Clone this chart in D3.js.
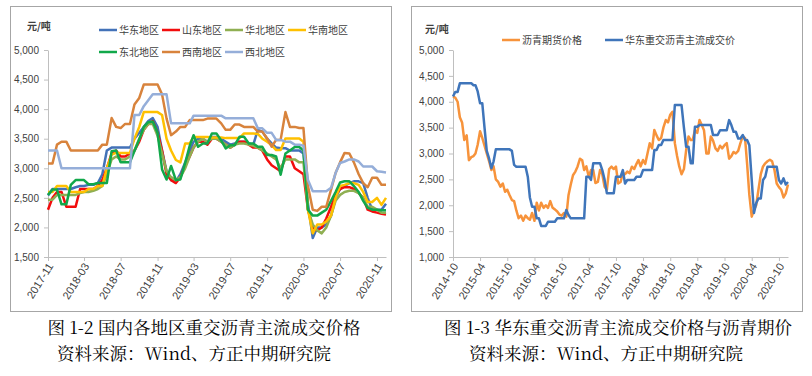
<!DOCTYPE html>
<html>
<head>
<meta charset="utf-8">
<script src="https://cdnjs.cloudflare.com/ajax/libs/d3/7.8.5/d3.min.js"></script>
<style>
  body { margin: 0; background: #fff; }
  svg text { font-family: "Liberation Sans", Arial, sans-serif; fill: #404040; }
  svg .cjk { font-family: "Noto Sans CJK SC", sans-serif; }
  svg .caption { font-family: "Noto Serif CJK SC", "Noto Sans CJK SC", serif; fill: #000; }
</style>
</head>
<body>
<svg id="chart" width="812" height="376"></svg>
<script>
// left chart: samples on the 1st and 16th of each month from 2017-11
const regionStart = "2017-11";
const regionTicks = ["2017-11", "2018-03", "2018-07", "2018-11", "2019-03", "2019-07",
  "2019-11", "2020-03", "2020-07", "2020-11"];
const regionNames = ["华东地区", "山东地区", "华北地区", "华南地区", "东北地区", "西南地区", "西北地区"];

const huadong = [2540, 2650, 2650, 2650, 2650, 2650, 2680, 2700, 2700, 2720,
  2720, 2750, 2900, 3300, 3350, 3350, 3350, 3350, 3350, 3500,
  3600, 3700, 3800, 3850, 3700, 3300, 2950, 2800, 2780, 2900,
  3100, 3300, 3450, 3500, 3500, 3450, 3530, 3530, 3500, 3450,
  3400, 3420, 3450, 3450, 3420, 3400, 3650, 3620, 3500, 3420,
  3350, 3340, 3340, 3300, 3300, 3300, 3250, 2400, 1820, 2000,
  2000, 2050, 2200, 2500, 2650, 2700, 2750, 2780, 2780, 2750,
  2500, 2300, 2300, 2300, 2400];
const shandong = [2300, 2500, 2600, 2600, 2350, 2350, 2350, 2650, 2650, 2650,
  2650, 2700, 2800, 3000, 3250, 3300, 3200, 3200, 3250, 3300,
  3450, 3650, 3750, 3800, 3600, 3300, 2900, 2800, 2750, 2850,
  3050, 3200, 3350, 3450, 3450, 3400, 3500, 3500, 3450, 3400,
  3350, 3400, 3450, 3450, 3400, 3350, 3350, 3300, 3150, 3050,
  3000, 2950, 3200, 3200, 3000, 2950, 2900, 2300, 2000, 1950,
  2000, 2150, 2350, 2550, 2650, 2680, 2680, 2650, 2580, 2500,
  2300, 2270, 2250, 2230, 2220];
const huabei = [2470, 2470, 2550, 2550, 2550, 2550, 2550, 2580, 2600, 2600,
  2620, 2650, 2700, 2900, 3150, 3200, 3150, 3150, 3200, 3300,
  3500, 3650, 3750, 3750, 3550, 3250, 2950, 2850, 2800, 2850,
  3000, 3200, 3350, 3450, 3500, 3450, 3500, 3500, 3450, 3400,
  3350, 3400, 3420, 3420, 3400, 3380, 3350, 3300, 3250, 3200,
  3150, 3000, 3150, 3150, 3150, 3100, 3100, 2300, 2050, 1950,
  1900, 2000, 2200, 2450, 2550, 2600, 2620, 2620, 2580, 2500,
  2350, 2350, 2300, 2250, 2250];
const huanan = [2600, 2600, 2700, 2700, 2700, 2600, 2600, 2600, 2600, 2650,
  2650, 2700, 2700, 3000, 3230, 3260, 3260, 3260, 3260, 3500,
  3700, 3950, 3950, 3950, 3950, 3900, 3500, 3300, 3140, 3100,
  3420, 3420, 3530, 3530, 3530, 3530, 3520, 3520, 3520, 3510,
  3510, 3510, 3510, 3590, 3590, 3590, 3580, 3500, 3450, 3393,
  3308, 3308, 3505, 3505, 3505, 3505, 3450, 2300, 1900, 2050,
  2050, 2100, 2200, 2500, 2700, 2720, 2750, 2750, 2720, 2600,
  2430, 2430, 2500, 2380, 2500];
const dongbei = [2550, 2640, 2640, 2390, 2390, 2720, 2800, 2800, 2800, 2730,
  2730, 2750, 2750, 2750, 3290, 3300, 3100, 3100, 3100, 3290,
  3490, 3700, 3780, 3790, 3600, 2980, 2810, 3040, 2800, 2810,
  3090, 3380, 3560, 3364, 3420, 3420, 3590, 3590, 3470, 3336,
  3390, 3390, 3533, 3533, 3420, 3420, 3364, 3364, 3224, 3224,
  3200, 2890, 3250, 3300, 3360, 3360, 3300, 2300, 2200, 2200,
  2250, 2300, 2450, 2600, 2760, 2780, 2780, 2700, 2600, 2450,
  2330, 2300, 2300, 2290, 2290];
const xinan = [3080, 3080, 3400, 3450, 3450, 3300, 3300, 3300, 3300, 3300,
  3300, 3300, 3400, 3400, 3850, 3700, 3680, 3750, 3750, 4080,
  4190, 4415, 4415, 4415, 4415, 4250, 3840, 3560, 3620, 3700,
  3700, 3815, 3815, 3815, 3815, 3840, 3840, 3840, 3760, 3650,
  3650, 3740, 3740, 3700, 3700, 3700, 3620, 3620, 3505, 3364,
  3480, 3480, 3950, 3700, 3700, 3680, 3680, 2700, 2300, 2280,
  2350, 2350, 2640, 2920, 3100, 3260, 3250, 3100, 2900, 2750,
  2680, 2840, 2840, 2720, 2720];
const xibei = [3300, 3300, 3300, 3000, 3000, 3000, 3000, 3000, 3000, 3000,
  3000, 3000, 3000, 3000, 3000, 3000, 3000, 3000, 3000, 3900,
  3900, 4050, 4150, 4250, 4250, 4250, 4250, 3760, 3760, 3760,
  3760, 3760, 3890, 3890, 3890, 3890, 3890, 3890, 3890, 3845,
  3845, 3845, 3845, 3845, 3845, 3845, 3675, 3675, 3600, 3600,
  3480, 3480, 3450, 3450, 3400, 3400, 3380, 2800, 2610, 2610,
  2610, 2610, 2670, 2920, 3090, 3115, 3150, 3150, 3115, 3030,
  3030, 3030, 2950, 2940, 2930];

// right chart: samples on the 1st and 16th of each month from 2014-10
const futuresStart = "2014-10";
const futuresTicks = ["2014-10", "2015-04", "2015-10", "2016-04", "2016-10", "2017-04", "2017-10",
  "2018-04", "2018-10", "2019-04", "2019-10", "2020-04", "2020-10"];
const futuresNames = ["沥青期货价格", "华东重交沥青主流成交价"];

const futuresPrice = [4100, 4080, 4000, 3700, 3600, 3260, 3350, 2870, 2930, 2950,
  3000, 3170, 3430, 3300, 3150, 3000, 2850, 2680, 2750, 2500,
  2450, 2360, 2420, 2260, 2300, 2200, 2100, 2080, 1900, 1750,
  1800, 1700, 1800, 1750, 1720, 1850, 1700, 2050, 1900, 2050,
  1950, 2000, 1950, 2080, 1950, 1920, 1880, 1820, 1800, 1850,
  1780, 2200, 2400, 2580, 2650, 2750, 2900, 2870, 2680, 2750,
  2552, 2680, 2680, 2430, 2450, 2680, 2600, 2360, 2300, 2700,
  2745, 2700, 2745, 2420, 2450, 2620, 2600, 2650, 2620, 2745,
  2700, 2800, 2874, 2750, 2874, 2800, 3000, 3197, 3100, 3454,
  3350, 3260, 3300, 3500, 3647, 3600, 3750, 3807, 3200, 2950,
  2745, 2600, 2700, 3067, 3330, 3260, 3260, 3450, 3400, 3647,
  3550, 3450, 3000, 3000, 3330, 3250, 3100, 3050, 3150, 3100,
  3160, 3200, 2900, 2950, 3030, 3000, 3050, 3200, 3330, 3300,
  2800, 2200, 1779, 1910, 2000, 2295, 2600, 2750, 2810, 2850,
  2880, 2850, 2680, 2420, 2350, 2300, 2150, 2230, 2400];
const huadongSpot = [4100, 4190, 4190, 4356, 4356, 4356, 4356, 4356, 4356, 4320,
  4320, 4200, 3970, 3970, 3500, 3050, 2900, 2714, 2850, 3080,
  3080, 3080, 3080, 3080, 3080, 3080, 3050, 2780, 2745, 2745,
  2745, 2745, 2745, 2551, 2150, 1972, 1972, 1747, 1747, 1600,
  1600, 1600, 1682, 1682, 1682, 1682, 1747, 1747, 1747, 1747,
  1908, 1811, 1747, 1747, 1747, 1747, 1747, 1747, 1747, 2552,
  2552, 2490, 2810, 2810, 2810, 2810, 2680, 2500, 2230, 2230,
  2230, 2230, 2552, 2552, 2552, 2680, 2420, 2488, 2488, 2488,
  2488, 2552, 2552, 2552, 2680, 2680, 2680, 2680, 2680, 3067,
  3067, 3164, 3164, 3260, 3260, 3260, 3260, 3260, 3937, 3937,
  3937, 3937, 3500, 3130, 3130, 2810, 2810, 3517, 3517, 3550,
  3550, 3550, 3550, 3550, 3550, 3357, 3357, 3357, 3450, 3450,
  3450, 3450, 3645, 3550, 3420, 3420, 3290, 3290, 3357, 3260,
  3260, 3160, 2490, 1850, 2037, 2130, 2130, 2488, 2552, 2745,
  2745, 2745, 2745, 2745, 2488, 2420, 2520, 2400, 2450];

const regionColors = ["#4372B8", "#F20D0D", "#8FAF52", "#FFC000", "#11A84A", "#D8833C", "#95AED9"];
const futuresColors = ["#F7933B", "#3F75BA"];

const parseMonth = d3.timeParse("%Y-%m");

function halfMonths(start, n) {
  const s = parseMonth(start);
  return d3.range(n).map(i =>
    new Date(s.getFullYear(), s.getMonth() + Math.floor(i / 2), i % 2 ? 16 : 1));
}

const svg = d3.select("#chart");

function drawPanel(cfg) {
  const g = svg.append("g");

  g.append("rect")
    .attr("x", cfg.frame[0] + 0.5)
    .attr("y", cfg.frame[1] + 0.5)
    .attr("width", cfg.frame[2])
    .attr("height", cfg.frame[3])
    .attr("fill", "none")
    .attr("stroke", "#A6A6A6");

  const x = d3.scaleTime()
    .domain([parseMonth(cfg.start), cfg.end])
    .range([cfg.left, cfg.right]);

  const y = d3.scaleLinear()
    .domain(cfg.yDomain)
    .range([cfg.bottom, cfg.top]);

  const yAxis = g.append("g")
    .attr("transform", `translate(${cfg.left},0)`)
    .call(d3.axisLeft(y).tickValues(d3.range(cfg.yDomain[0], cfg.yDomain[1] + 1, 500))
      .tickFormat(d3.format(",")).tickSize(4).tickSizeOuter(0).tickPadding(5));

  const xAxis = g.append("g")
    .attr("transform", `translate(0,${cfg.bottom})`)
    .call(d3.axisBottom(x).tickValues(cfg.ticks.map(parseMonth))
      .tickFormat(d3.timeFormat("%Y-%m")).tickSize(4).tickSizeOuter(0));

  [yAxis, xAxis].forEach(a => {
    a.select(".domain").attr("stroke", "#BFBFBF");
    a.selectAll(".tick line").attr("stroke", "#BFBFBF");
    a.selectAll("text").style("font-size", "10px").attr("fill", "#404040");
  });

  xAxis.selectAll("text")
    .style("font-size", "11px")
    .attr("x", 0)
    .attr("y", 0)
    .attr("dy", "0.35em")
    .attr("text-anchor", "end")
    .attr("transform", "translate(2,7) rotate(-58)");

  const dates = halfMonths(cfg.start, cfg.series[0].values.length);
  const line = d3.line()
    .x((d, i) => x(dates[i]))
    .y(d => y(d));

  cfg.series.forEach(s => {
    g.append("path")
      .datum(s.values)
      .attr("fill", "none")
      .attr("stroke", s.color)
      .attr("stroke-width", 2.5)
      .attr("stroke-linejoin", "round")
      .attr("d", line);
  });

  g.append("text")
    .attr("class", "cjk")
    .attr("x", cfg.unit[0])
    .attr("y", cfg.unit[1])
    .attr("dy", "0.35em")
    .style("font-size", "10px")
    .style("font-weight", "bold")
    .text("元/吨");

  const legend = g.selectAll(".legend")
    .data(cfg.series)
    .join("g")
      .attr("class", "legend")
      .attr("transform", (d, i) => `translate(${cfg.legendPos[i][0]},${cfg.legendPos[i][1]})`);

  legend.append("line")
    .attr("x1", 0)
    .attr("x2", 18)
    .attr("stroke", d => d.color)
    .attr("stroke-width", 2.5);

  legend.append("text")
    .attr("class", "cjk")
    .attr("x", 20)
    .attr("dy", "0.35em")
    .style("font-size", "10px")
    .text(d => d.name);

  cfg.captions.forEach(c => {
    g.append("text")
      .attr("class", "caption")
      .attr("x", c[0])
      .attr("y", c[1])
      .attr("dy", "0.35em")
      .attr("text-anchor", "middle")
      .style("font-size", "17.5px")
      .text(c[2]);
  });
}

drawPanel({
  frame: [10, 6, 381, 305],
  start: regionStart,
  end: new Date(2020, 11, 1),
  left: 48, right: 386, top: 50, bottom: 257,
  yDomain: [1500, 5000],
  ticks: regionTicks,
  series: [huadong, shandong, huabei, huanan, dongbei, xinan, xibei]
    .map((v, i) => ({ name: regionNames[i], values: v, color: regionColors[i] })),
  legendPos: [[99, 30], [162, 30], [225, 30], [288, 30], [99, 52], [162, 52], [225, 52]],
  unit: [27, 26],
  captions: [[204, 328, "图 1-2 国内各地区重交沥青主流成交价格"],
             [194, 354, "资料来源：Wind、方正中期研究院"]]
});

drawPanel({
  frame: [411, 6, 391, 305],
  start: futuresStart,
  end: new Date(2020, 11, 1),
  left: 453, right: 788, top: 50, bottom: 257,
  yDomain: [1000, 5000],
  ticks: futuresTicks,
  series: [futuresPrice, huadongSpot]
    .map((v, i) => ({ name: futuresNames[i], values: v, color: futuresColors[i] })),
  legendPos: [[502, 40], [605, 40]],
  unit: [425, 29],
  captions: [[618, 328, "图 1-3 华东重交沥青主流成交价格与沥青期价"],
             [606, 354, "资料来源：Wind、方正中期研究院"]]
});
</script>
</body>
</html>
